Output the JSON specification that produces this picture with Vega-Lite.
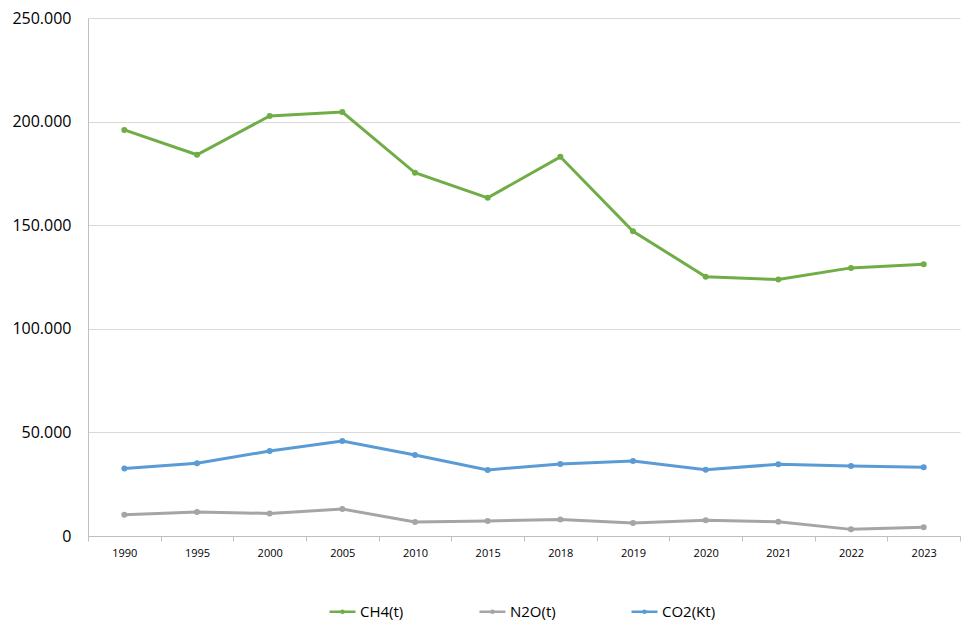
{
  "$schema": "https://vega.github.io/schema/vega-lite/v6.json",
  "width": 872,
  "height": 518,
  "autosize": {"type": "none"},
  "padding": {"left": 88, "top": 18, "right": 16, "bottom": 102},
  "background": "white",
  "config": {
    "view": {"stroke": null},
    "font": "Open Sans"
  },
  "data": {
    "values": [
      {"year": "1990", "series": "CH4(t)", "value": 196000},
      {"year": "1995", "series": "CH4(t)", "value": 184000},
      {"year": "2000", "series": "CH4(t)", "value": 202700},
      {"year": "2005", "series": "CH4(t)", "value": 204600},
      {"year": "2010", "series": "CH4(t)", "value": 175300},
      {"year": "2015", "series": "CH4(t)", "value": 163200},
      {"year": "2018", "series": "CH4(t)", "value": 183000},
      {"year": "2019", "series": "CH4(t)", "value": 147100},
      {"year": "2020", "series": "CH4(t)", "value": 125100},
      {"year": "2021", "series": "CH4(t)", "value": 123800},
      {"year": "2022", "series": "CH4(t)", "value": 129400},
      {"year": "2023", "series": "CH4(t)", "value": 131200},
      {"year": "1990", "series": "N2O(t)", "value": 10300},
      {"year": "1995", "series": "N2O(t)", "value": 11600},
      {"year": "2000", "series": "N2O(t)", "value": 10900},
      {"year": "2005", "series": "N2O(t)", "value": 13000},
      {"year": "2010", "series": "N2O(t)", "value": 6800},
      {"year": "2015", "series": "N2O(t)", "value": 7200},
      {"year": "2018", "series": "N2O(t)", "value": 8000},
      {"year": "2019", "series": "N2O(t)", "value": 6300},
      {"year": "2020", "series": "N2O(t)", "value": 7600},
      {"year": "2021", "series": "N2O(t)", "value": 6900},
      {"year": "2022", "series": "N2O(t)", "value": 3200},
      {"year": "2023", "series": "N2O(t)", "value": 4200},
      {"year": "1990", "series": "CO2(Kt)", "value": 32600},
      {"year": "1995", "series": "CO2(Kt)", "value": 35100},
      {"year": "2000", "series": "CO2(Kt)", "value": 41000},
      {"year": "2005", "series": "CO2(Kt)", "value": 45800},
      {"year": "2010", "series": "CO2(Kt)", "value": 39100},
      {"year": "2015", "series": "CO2(Kt)", "value": 31900},
      {"year": "2018", "series": "CO2(Kt)", "value": 34700},
      {"year": "2019", "series": "CO2(Kt)", "value": 36200},
      {"year": "2020", "series": "CO2(Kt)", "value": 32000},
      {"year": "2021", "series": "CO2(Kt)", "value": 34600},
      {"year": "2022", "series": "CO2(Kt)", "value": 33800},
      {"year": "2023", "series": "CO2(Kt)", "value": 33200}
    ]
  },
  "mark": {"type": "line", "strokeWidth": 3, "point": {"filled": true, "size": 36}},
  "encoding": {
    "x": {
      "field": "year",
      "type": "ordinal",
      "scale": {"type": "band", "paddingInner": 0, "paddingOuter": 0},
      "axis": {
        "title": null,
        "labelAngle": 0,
        "labelFontSize": 11,
        "labelColor": "#000000",
        "labelPadding": 6,
        "tickBand": "extent",
        "ticks": true,
        "tickSize": 5,
        "tickColor": "#BFBFBF",
        "domainColor": "#BFBFBF",
        "grid": false
      }
    },
    "y": {
      "field": "value",
      "type": "quantitative",
      "scale": {"domain": [0, 250000], "nice": false},
      "axis": {
        "title": null,
        "values": [0, 50000, 100000, 150000, 200000, 250000],
        "labelExpr": "replace(format(datum.value, ','), ',', '.')",
        "labelFontSize": 16,
        "labelColor": "#000000",
        "labelPadding": 17,
        "ticks": false,
        "domain": true,
        "domainColor": "#BFBFBF",
        "grid": true,
        "gridColor": "#D9D9D9"
      }
    },
    "color": {
      "field": "series",
      "type": "nominal",
      "sort": ["CH4(t)", "N2O(t)", "CO2(Kt)"],
      "scale": {"domain": ["CH4(t)", "N2O(t)", "CO2(Kt)"], "range": ["#70AD47", "#A5A5A5", "#5B9BD5"]},
      "legend": {
        "title": null,
        "orient": "none",
        "direction": "horizontal",
        "legendX": 240,
        "legendY": 579,
        "padding": 0,
        "columnPadding": 70,
        "symbolType": "M-1,0L1,0M-0.08,0A0.08,0.08 0 1,1 0.08,0A0.08,0.08 0 1,1 -0.08,0",
        "symbolSize": 676,
        "symbolStrokeWidth": 2.5,
        "labelFontSize": 15,
        "labelColor": "#000000",
        "labelOffset": 3
      }
    }
  }
}
